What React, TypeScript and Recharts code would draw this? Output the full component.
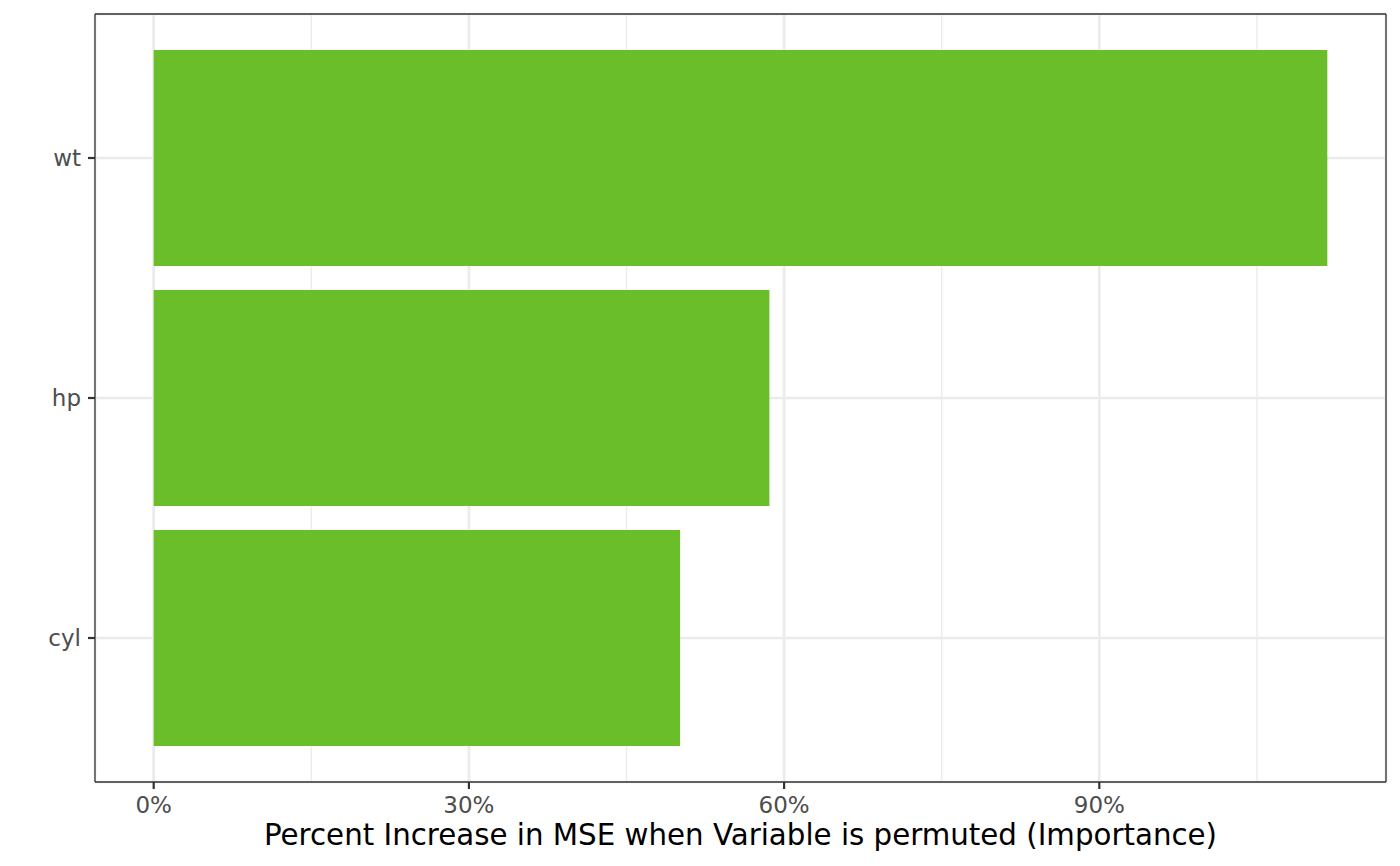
import {
  BarChart,
  Bar,
  XAxis,
  YAxis,
  CartesianGrid,
} from 'recharts';

// variable importance (random forest, mtcars)
const variables = ['wt', 'hp', 'cyl'];
const importance = [111.7, 58.6, 50.1];
const majorTicks = [0, 30, 60, 90];
const minorTicks = [15, 45, 75, 105];

const data = variables.map((name, i) => ({ name, value: importance[i] }));

// ggplot style 5% expansion on each side
const maxVal = Math.max(...importance);
const pad = maxVal * 0.05;
const domain = [-pad, maxVal + pad];

const tickStyle = { fill: '#4D4D4D', fontSize: 23 };
const border = { stroke: '#333333', strokeWidth: 1.3 };

export default function App() {
  return (
    <div
      style={{
        position: 'absolute',
        left: 0,
        top: 0,
        width: 1400,
        height: 866,
        background: '#fff',
        fontFamily: '"DejaVu Sans", sans-serif',
      }}
    >
      <BarChart
        width={1400}
        height={866}
        data={data}
        layout="vertical"
        margin={{ top: 13, right: 13, bottom: 0, left: 0 }}
        barCategoryGap={12}
      >
        {/* minor grid from the top axis ticks, major grid from the bottom axis */}
        <CartesianGrid
          xAxisId="minor"
          stroke="#EBEBEB"
          strokeWidth={1.3}
          horizontal={false}
        />
        <CartesianGrid stroke="#EBEBEB" strokeWidth={2.7} />
        <XAxis
          type="number"
          domain={domain}
          allowDataOverflow
          ticks={majorTicks}
          tickFormatter={(v) => `${v}%`}
          tick={tickStyle}
          tickSize={7}
          tickMargin={8}
          height={84}
          axisLine={border}
          tickLine={{ stroke: '#333333', strokeWidth: 2.2 }}
          label={{
            value: 'Percent Increase in MSE when Variable is permuted (Importance)',
            position: 'insideBottom',
            offset: 21,
            fill: '#000000',
            fontSize: 29.3,
          }}
        />
        <XAxis
          xAxisId="minor"
          orientation="top"
          type="number"
          domain={domain}
          allowDataOverflow
          ticks={minorTicks}
          interval={0}
          tickFormatter={() => ''}
          height={1}
          tickLine={false}
          axisLine={border}
        />
        <YAxis
          type="category"
          dataKey="name"
          width={95}
          padding={{ top: 24, bottom: 24 }}
          tick={tickStyle}
          tickSize={7}
          tickMargin={7}
          axisLine={border}
          tickLine={{ stroke: '#333333', strokeWidth: 2.2 }}
        />
        <YAxis
          yAxisId="right"
          orientation="right"
          type="number"
          domain={[0, 1]}
          width={1}
          tick={false}
          tickLine={false}
          axisLine={border}
        />
        <Bar dataKey="value" fill="#6ABE29" isAnimationActive={false} />
      </BarChart>
    </div>
  );
}
